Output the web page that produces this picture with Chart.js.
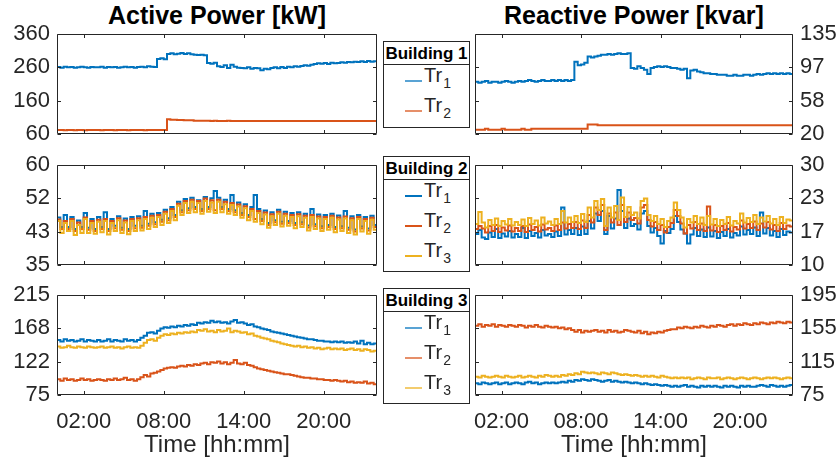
<!DOCTYPE html>
<html>
<head>
<meta charset="utf-8">
<script src="https://cdn.jsdelivr.net/npm/chart.js@4.4.1/dist/chart.umd.min.js"></script>
<style>
  body { margin: 0; background: #fff; font-family: 'Liberation Sans', Arial, Helvetica, sans-serif; color: #000; }
  #wrap { position: relative; width: 840px; height: 466px; overflow: hidden; }
  canvas { position: absolute; }
  .title { position: absolute; top: 1px; font-weight: bold; font-size: 25px; text-align: center; }
  .box { position: absolute; left: 383px; width: 85px; border: 1px solid #262626; background: #fff; }
  .box .head { font-weight: bold; font-size: 17px; height: 22px; line-height: 23px; text-align: center; border-bottom: 1px solid #262626; }
  .entry { position: absolute; left: 21px; height: 2px; }
  .entry .ln { position: absolute; left: 0; top: 0; width: 17px; height: 1.5px; }
  .entry .tx { position: absolute; left: 19px; top: -15px; font-size: 20px; line-height: 20px; color: #262626; white-space: nowrap; }
  .entry .tx sub { font-size: 14px; position: relative; top: 6px; vertical-align: baseline; margin-left: 1px; }
</style>
</head>
<body>
<div id="wrap">
  <div class="title" style="left:57px;width:320px">Active Power [kW]</div>
  <div class="title" style="left:475px;width:318px">Reactive Power [kvar]</div>

  <canvas id="act1" width="380" height="142" style="left:0;top:13px"></canvas>
  <canvas id="act2" width="380" height="142" style="left:0;top:144px"></canvas>
  <canvas id="act3" width="380" height="192" style="left:0;top:274px"></canvas>
  <canvas id="react1" width="385" height="142" style="left:455px;top:13px"></canvas>
  <canvas id="react2" width="385" height="142" style="left:455px;top:144px"></canvas>
  <canvas id="react3" width="385" height="192" style="left:455px;top:274px"></canvas>

  <div id="legends"></div>
</div>

<script>
// colours used by MATLAB for the three transformers
const trColors = ['#0072BD', '#D95319', '#EDB120'];

const timeTicks = [2, 8, 14, 20];
const timeLabels = ['02:00', '08:00', '14:00', '20:00'];
const stepHours = 0.25;

// y ranges, four evenly spaced ticks each
const activeRanges = [[60, 360], [35, 60], [75, 215]];
const reactiveRanges = [[20, 135], [10, 30], [75, 195]];

const buildings = ['Building 1', 'Building 2', 'Building 3'];

// ---- Building 1, active power (kW), 15 min samples ----
const act1Tr1 = [
  261,259,262,260,261,259,260,262,260,259,261,260,
  260,262,259,261,260,261,259,260,262,260,261,259,
  261,262,260,263,262,261,285,287,284,300,302,299,
  301,303,300,302,299,298,297,298,296,273,271,274,
  263,261,266,258,268,262,259,258,257,260,256,258,
  257,251,256,254,258,260,257,261,258,262,260,263,
  262,264,266,265,268,270,272,271,273,270,274,272,
  273,275,274,276,275,277,276,278,276,279,277,278];
const act1Tr2 = [
  72,72,71,72,72,71,72,72,71,72,72,72,
  72,71,72,72,72,71,72,72,72,71,72,72,
  72,72,71,72,72,72,72,72,72,104,103,103,
  102,102,101,101,101,100,100,100,100,100,99,100,
  99,99,99,100,99,99,99,99,99,99,99,99,
  99,99,99,99,99,99,99,99,99,99,99,99,
  99,99,99,99,99,99,99,99,99,99,99,99,
  99,99,99,99,99,99,99,99,99,99,99,99];

// ---- Building 2, active power (kW) ----
const act2Tr1 = [
  46.9,44.5,47.5,44.5,47,44,46.1,44.5,48,44.3,46.5,44,
  47,44.5,48.2,44,46.5,44.8,47.2,44.3,46.6,44,47,44.8,
  47.2,44.8,48.5,45.3,47.8,45.7,48,46.3,48.8,46.7,49.5,47.5,
  50.8,48.7,51.5,49.2,51.8,49.5,51.2,49,52,49.5,51.7,53.5,
  51.8,49.5,51.3,49,52.5,48.7,50.6,48,50.2,47.5,49.5,52.5,
  49,46.5,48.6,45.5,48.2,46.2,48.8,45.8,48.3,46,48,45.5,
  48.2,45.7,47.8,44.9,49,45.2,47.6,44.7,47.5,45,47.8,44.5,
  47.4,44.7,48.5,44.3,47.2,43.9,47.5,44.6,47,44.1,47.3,45];
const act2Tr2 = [
  46.4,44,46,44,46.5,43.5,45.6,44,46.9,43.8,46,43.5,
  46.3,44,46.5,43.5,46,44.2,46.7,43.8,46.1,43.5,46.5,44.2,
  46.7,44.3,47,44.8,47.3,45.2,47.5,45.8,48.3,46.2,49,47,
  50.3,48.2,51,48.7,51.3,49,51,48.5,51.6,49,51.2,48.7,
  51.3,49,50.8,48.5,50.5,48.2,50.1,47.5,49.7,47,49,46.5,
  48.5,46,48.1,45,47.7,45.7,48.3,45.3,47.8,45.5,47.5,45,
  47.7,45.2,47.3,44.4,47.5,44.7,47.1,44.2,47,44.5,47.3,44,
  46.9,44.2,47.1,43.8,46.7,43.4,47,44.1,46.5,43.6,46.8,44.5];
const act2Tr3 = [
  46,43,45.5,43.5,46,42.5,45,43,46.5,43,45.5,42.8,
  45.8,43.2,46,42.6,45.5,43.5,46.2,43,45.6,42.7,46,43.5,
  46.2,43.6,46.5,44,46.8,44.5,47,45,47.8,45.5,48.5,46.2,
  49.8,47.5,50.5,48,50.8,48.2,50.5,47.8,51,48.3,50.6,48,
  50.8,48.2,50.2,47.8,50,47.5,49.6,46.8,49.2,46.2,48.5,45.8,
  48,45.2,47.6,44.3,47.2,45,47.8,44.6,47.3,44.8,47,44.2,
  47.2,44.5,46.8,43.6,47,44,46.6,43.5,46.5,43.8,46.8,43.2,
  46.4,43.5,46.6,43,46.2,42.6,46.5,43.4,46,42.8,46.3,43.8];

// ---- Building 3, active power (kW) ----
const act3Tr1 = [
  152,150,153,151,152,150,151,153,150,152,151,150,
  152,150,151,153,150,152,151,150,153,151,152,150,
  152,155,158,162,163,161,165,168,170,169,171,170,
  172,171,173,172,174,173,176,175,177,176,179,177,
  178,176,177,175,178,180,176,177,175,173,174,171,
  170,168,167,166,164,163,162,161,160,159,158,157,
  156,155,154,153,153,152,151,151,150,150,149,150,
  149,150,148,149,148,150,147,151,146,148,146,147];
const act3Tr2 = [
  97,95,98,96,97,95,96,98,96,97,95,96,
  97,96,95,97,96,98,96,97,99,96,97,95,
  97,100,103,101,105,106,108,110,112,113,114,113,
  115,116,115,117,116,118,117,119,120,118,121,120,
  122,119,121,118,120,124,119,118,120,117,116,114,
  112,111,110,109,108,107,106,105,104,104,103,102,
  101,100,99,99,98,98,97,97,96,96,95,96,
  95,94,95,93,94,92,93,92,94,91,92,90];
const act3Tr3 = [
  143,141,142,144,142,141,143,142,141,143,142,141,
  142,143,141,142,143,141,142,140,142,143,141,142,
  141,144,148,152,153,151,155,158,160,159,161,160,
  162,161,163,162,164,163,166,165,167,164,165,163,
  166,164,165,168,163,165,164,162,163,160,161,158,
  157,155,154,153,151,150,149,147,146,145,144,143,
  144,142,143,141,142,140,141,139,140,141,139,140,
  139,140,138,139,140,138,139,137,139,138,136,137];

// ---- Building 1, reactive power (kvar) ----
const react1Tr1 = [
  80,79,80,81,79,80,80,79,80,81,80,79,
  80,81,80,81,82,81,80,81,82,81,81,82,
  81,82,81,82,81,82,103,99,100,102,109,108,
  109,110,111,111,112,111,112,113,112,112,113,96,
  95,98,96,94,89,96,97,98,97,98,97,96,
  96,95,94,95,84,93,94,92,91,90,90,89,
  89,88,88,88,87,87,88,87,87,88,88,87,
  88,89,88,89,90,89,90,89,90,89,90,89];
const react1Tr2 = [
  25,25,25,26,25,25,25,25,26,25,25,25,
  25,25,26,25,25,26,26,26,26,26,26,26,
  26,26,26,26,26,26,26,26,26,26,31,31,
  31,30,30,30,30,30,30,30,30,30,30,30,
  30,30,30,30,30,30,30,30,30,30,30,30,
  30,30,30,30,30,30,30,30,30,30,30,30,
  30,30,30,30,30,30,30,30,30,30,30,30,
  30,30,30,30,30,30,30,30,30,30,30,30];

// ---- Building 2, reactive power (kvar) ----
const react2Tr1 = [
  16.2,17,15.5,15.2,16.5,15.6,17.2,15.4,16.3,15.7,16.8,15.5,
  16.2,15.6,17.4,15.4,16.8,15.8,16.4,15.5,17,15.9,16.2,15.6,
  16.7,15.8,21.5,16.1,17,16.2,17.4,16,17.7,16.2,18.8,17.3,
  20.3,18.8,20.8,16.2,19.8,17.3,19.3,25,20.8,17.4,19.3,17.8,
  18.2,17.1,20.3,20.8,17.8,16.5,17.4,15.8,14.3,16.8,16.4,17.2,
  19.8,18.6,17.1,16.3,14.3,16.1,17.4,15.8,17.1,15.6,17.5,15.7,
  16.8,15.4,16.6,15.8,17.2,15.5,16.4,15.9,17.7,16.1,17,16.2,
  17.5,15.8,20.5,16.3,17.4,15.9,16.8,15.6,17.2,16,16.7,16.5];
const react2Tr2 = [
  17.2,17.8,17.3,16.5,17.8,16.8,18,16.6,17.5,16.9,17.9,16.7,
  17.4,16.8,17.8,16.6,18.1,17,17.6,16.7,18.1,17.1,17.4,16.8,
  17.9,17,18.5,17.3,18.2,17.4,18.6,17.2,18.9,17.4,20,18.5,
  21.5,20,22,17,20.3,18.5,20.5,18,22,18.6,20.5,19,
  19.4,18.3,21.5,22,19,17.7,18.6,17,18,16.5,17.6,18.4,
  21,19.8,18.3,16.3,18,17.3,18.6,17,18.3,16.8,21.7,16.9,
  18,16.6,17.8,17,18.4,16.7,17.6,17.1,18.9,17.3,18.2,17.4,
  18.7,17,18.3,17.5,18.6,17.1,18,16.8,18.4,17.2,17.9,17.7];
const react2Tr3 = [
  18.2,20.6,18.5,17.5,19,18,19.3,17.8,18.8,18.1,19.2,17.9,
  18.6,18,19.1,17.8,19.4,18.2,18.9,17.9,19.5,18.3,18.7,18,
  19.2,18.2,20.8,18.5,19.5,18.6,19.8,18.4,20.2,18.6,21.5,19.5,
  22.8,21,23.2,17.8,21.5,19.5,21.8,19,23.5,19.6,21.6,20,
  20.5,19.3,22.8,23.3,20,18.8,19.8,18.2,19.2,17.6,18.8,19.5,
  22.5,21,19.5,17.5,19.2,18.5,19.8,18.2,19.5,18,19.8,18.1,
  19.2,17.8,19,18.2,19.6,17.9,18.8,18.3,20.3,18.5,19.4,18.6,
  20,18.2,19.5,18.7,19.8,18.3,19.2,18,19.6,18.4,19.1,18.9];

// ---- Building 3, reactive power (kvar) ----
const react3Tr1 = [
  89,88,90,89,88,89,90,88,89,90,88,89,
  90,89,88,90,91,89,90,88,89,90,89,90,
  89,90,91,90,92,91,93,92,94,93,92,94,
  93,92,91,92,93,91,92,91,90,91,90,89,
  90,89,88,89,88,87,88,87,86,87,86,85,
  86,85,86,87,85,86,85,84,86,85,86,85,
  86,85,84,86,85,86,85,84,86,85,86,85,
  85,86,87,86,85,87,86,85,86,85,86,87];
const react3Tr2 = [
  158,160,157,159,158,160,157,159,158,157,159,158,
  157,159,158,156,158,157,159,157,156,158,157,156,
  157,155,156,154,155,153,151,153,150,152,151,152,
  153,151,152,150,153,151,152,150,151,153,152,151,
  150,152,149,151,148,150,149,151,150,152,153,154,
  154,156,155,157,156,155,157,156,158,157,156,158,
  157,159,158,157,159,160,158,160,159,161,160,159,
  161,160,162,161,160,162,161,163,162,161,163,162];
const react3Tr3 = [
  97,96,98,97,96,97,98,97,96,98,97,96,
  97,98,96,97,98,97,96,98,97,99,98,97,
  98,97,99,98,100,99,101,100,103,102,101,102,
  101,100,102,101,100,102,101,100,99,100,99,98,
  99,98,97,98,97,98,97,96,98,97,96,95,
  96,95,96,95,96,94,95,96,95,94,96,95,
  95,96,94,95,96,95,94,95,96,95,94,95,
  96,95,94,95,96,95,96,95,94,95,96,95];

const axisColor = '#262626';
const fontFamily = "'Liberation Sans', Arial, Helvetica, sans-serif";
// canvas margin above/below the plot box (leaves room for the end tick labels)
const edgePad = 21;

// samples -> {x: hours, y}, last value held until 24:00
function toPoints(values) {
  const pts = values.map((v, i) => ({ x: i * stepHours, y: v }));
  pts.push({ x: 24, y: values[values.length - 1] });
  return pts;
}

function evenTicks(range) {
  const d = (range[1] - range[0]) / 3;
  return [range[0], range[0] + d, range[0] + 2 * d, range[1]];
}

// box around the plot area with MATLAB style inward ticks on all four sides
const framePlugin = {
  id: 'frame',
  afterDatasetsDraw(chart, args, opts) {
    const { ctx, chartArea: a, scales } = chart;
    const l = Math.round(a.left) + 0.5, r = Math.round(a.right) - 0.5;
    const t = Math.round(a.top) + 0.5, b = Math.round(a.bottom) - 0.5;
    const len = 3.5;
    ctx.save();
    ctx.strokeStyle = axisColor;
    ctx.lineWidth = 1;
    ctx.beginPath();
    ctx.rect(l, t, r - l, b - t);
    timeTicks.forEach(h => {
      const px = Math.round(scales.x.getPixelForValue(h)) + 0.5;
      ctx.moveTo(px, b); ctx.lineTo(px, b - len);
      ctx.moveTo(px, t); ctx.lineTo(px, t + len);
    });
    (opts.yTicks || []).forEach(v => {
      const py = Math.round(scales.y.getPixelForValue(v)) + 0.5;
      ctx.moveTo(l, py); ctx.lineTo(l + len, py);
      ctx.moveTo(r, py); ctx.lineTo(r - len, py);
    });
    ctx.stroke();
    ctx.restore();
  }
};

function makeChart(id, side, range, series, bottomRow) {
  const yTicks = evenTicks(range);
  const datasets = series.map((vals, i) => ({
    data: toPoints(vals),
    borderColor: trColors[i],
    borderWidth: 2,
    pointRadius: 0,
    stepped: true,
    order: series.length - i   // Tr3 drawn on top
  }));
  const xScale = {
    type: 'linear',
    min: 0,
    max: 24,
    display: bottomRow,
    grid: { display: false, drawTicks: false },
    border: { display: false },
    afterBuildTicks: s => { s.ticks = timeTicks.map(v => ({ value: v })); },
    ticks: {
      autoSkip: false,
      maxRotation: 0,
      padding: 14,
      color: axisColor,
      font: { family: fontFamily, size: 22 },
      callback: v => timeLabels[timeTicks.indexOf(v)]
    },
    title: {
      display: true,
      text: 'Time [hh:mm]',
      color: axisColor,
      font: { family: fontFamily, size: 24 },
      padding: { top: 0, bottom: 6 }
    }
  };
  if (bottomRow) xScale.afterFit = s => { s.height = 71; };

  return new Chart(document.getElementById(id).getContext('2d'), {
    type: 'line',
    data: { datasets: datasets },
    options: {
      responsive: false,
      animation: false,
      events: [],
      layout: {
        padding: {
          top: edgePad,
          bottom: bottomRow ? 0 : edgePad,
          left: side === 'left' ? 0 : 20,
          right: side === 'left' ? 3 : 0
        }
      },
      plugins: {
        legend: { display: false },
        tooltip: { enabled: false },
        frame: { yTicks: yTicks }
      },
      scales: {
        x: xScale,
        y: {
          position: side,
          min: range[0],
          max: range[1],
          grid: { display: false, drawTicks: false },
          border: { display: false },
          afterBuildTicks: s => { s.ticks = yTicks.map(v => ({ value: v })); },
          afterFit: s => { s.width = side === 'left' ? 57 : 47; },
          ticks: {
            autoSkip: false,
            padding: 7,
            color: axisColor,
            font: { family: fontFamily, size: 22 },
            callback: v => Math.round(v)
          }
        }
      }
    },
    plugins: [framePlugin]
  });
}

makeChart('act1', 'left', activeRanges[0], [act1Tr1, act1Tr2], false);
makeChart('act2', 'left', activeRanges[1], [act2Tr1, act2Tr2, act2Tr3], false);
makeChart('act3', 'left', activeRanges[2], [act3Tr1, act3Tr2, act3Tr3], true);
makeChart('react1', 'right', reactiveRanges[0], [react1Tr1, react1Tr2], false);
makeChart('react2', 'right', reactiveRanges[1], [react2Tr1, react2Tr2, react2Tr3], false);
makeChart('react3', 'right', reactiveRanges[2], [react3Tr1, react3Tr2, react3Tr3], true);

// legend boxes between the two columns
const boxTops = [41, 156, 288];
const boxHeights = [85, 114, 114];
const trCounts = [2, 3, 3];
const legendAlpha = [0.65, 1, 0.65];
const legendHost = document.getElementById('legends');
buildings.forEach((name, b) => {
  const box = document.createElement('div');
  box.className = 'box';
  box.style.top = boxTops[b] + 'px';
  box.style.height = boxHeights[b] + 'px';
  let html = '<div class="head">' + name + '</div>';
  for (let i = 0; i < trCounts[b]; i++) {
    html += '<div class="entry" style="top:' + (38 + i * 30) + 'px">' +
      '<div class="ln" style="background:' + trColors[i] + ';opacity:' + legendAlpha[b] + '"></div>' +
      '<div class="tx">Tr<sub>' + (i + 1) + '</sub></div></div>';
  }
  box.innerHTML = html;
  legendHost.appendChild(box);
});
</script>
</body>
</html>
